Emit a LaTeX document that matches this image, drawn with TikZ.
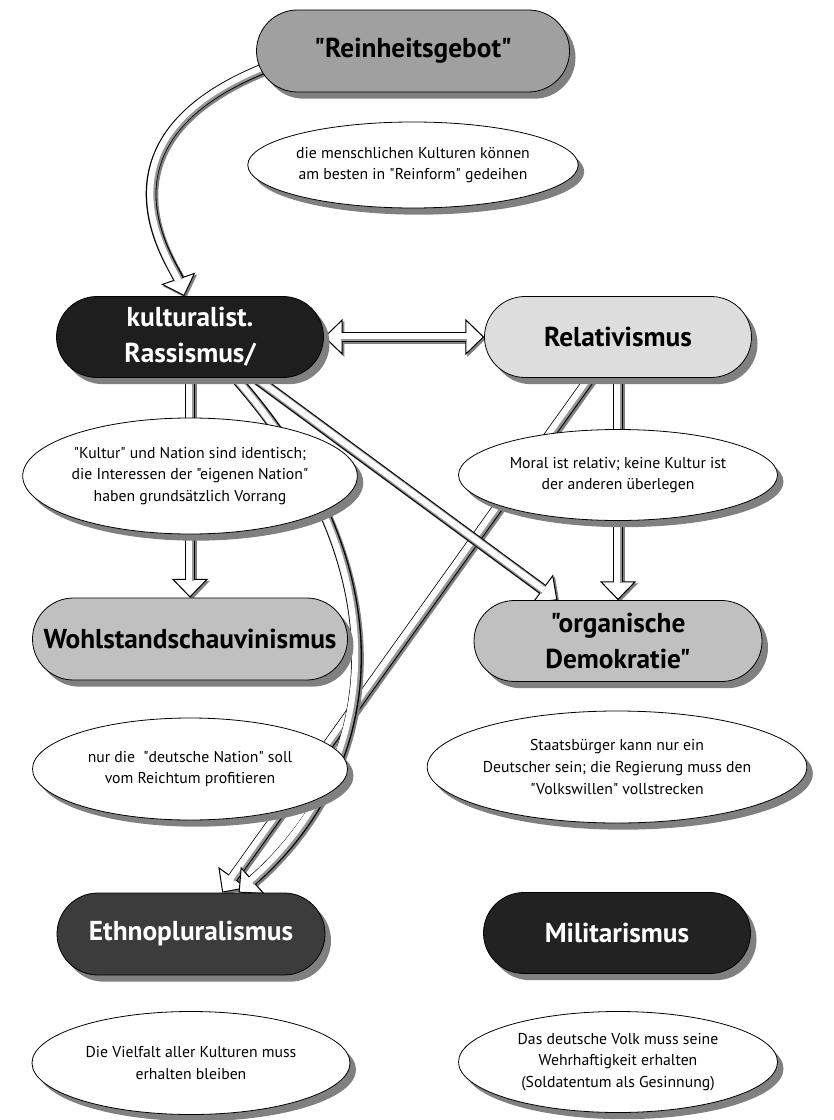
\documentclass[tikz,border=0pt]{standalone}
\usepackage{fontspec}
\setmainfont{PT Sans}[Ligatures=TeXOff]
\usetikzlibrary{shapes.misc,shapes.geometric,shadows,arrows.meta}
\pgfdeclarelayer{back}
\pgfdeclarelayer{bg}
\pgfsetlayers{back,bg,main}
\definecolor{shgray}{RGB}{128,128,128}
\definecolor{ingray}{RGB}{150,150,150}
\definecolor{cR}{RGB}{160,160,160}
\definecolor{cK}{RGB}{30,30,30}
\definecolor{cRel}{RGB}{221,221,221}
\definecolor{cW}{RGB}{192,192,192}
\definecolor{cEth}{RGB}{60,60,60}
\definecolor{cMil}{RGB}{34,34,34}
\newcommand\myhead{\fontsize{20.5}{27}\selectfont\bfseries}
\newcommand\mybody{\fontsize{11.8}{16.3}\selectfont}
\tikzset{
  pill/.style={rounded rectangle, draw=black, line width=0.6pt, inner sep=0pt,
    align=center, font=\myhead,
    drop shadow={shadow xshift=4.5pt, shadow yshift=-5pt, opacity=1, fill=shgray}},
  oval/.style={ellipse, draw=black, line width=0.6pt, fill=white, inner sep=0pt,
    align=center, font=\mybody,
    drop shadow={shadow xshift=4.5pt, shadow yshift=-5pt, opacity=1, fill=shgray}},
  tipone/.style={-{Triangle[length=14pt,width=27pt,line width=0.75pt,fill=#1]}},
  tipboth/.style={{Triangle[length=14pt,width=27pt,line width=0.75pt,fill=#1]}-{Triangle[length=14pt,width=27pt,line width=0.75pt,fill=#1]}},
  shaft/.style={line width=8pt},
  coregray/.style={line width=6.4pt, draw=ingray},
  core/.style={line width=4.6pt, draw=white},
}
\newcommand\harrow[1]{%
  \begin{scope}[transform canvas={shift={(1.4pt,-1.4pt)}}]
    \draw[shaft, draw=shgray, tipone=shgray, shorten <=-6pt] #1;
  \end{scope}
  \draw[shaft, draw=black, tipone=white, shorten <=-6pt] #1;
  \draw[coregray, shorten <=-7pt, shorten >=12.5pt] #1;
  \begin{scope}[transform canvas={shift={(-0.8pt,0.8pt)}}]
    \draw[core, shorten <=-7pt, shorten >=11.5pt] #1;
  \end{scope}
}
\begin{document}
\begin{tikzpicture}[x=0.75pt,y=-0.75pt]
\begin{pgfonlayer}{back}
\fill[white] (0,0) rectangle (834,1120);
\end{pgfonlayer}
\useasboundingbox (0,0) rectangle (834,1120);

\node[pill, fill=cR, minimum width=234.75pt, minimum height=61.5pt] (R) at (413,51) {"Reinheitsgebot"};
\node[oval, minimum width=234.75pt, minimum height=64.5pt] (E1) at (413,165)
  {die menschlichen Kulturen können\\am besten in "Reinform" gedeihen};

\node[pill, fill=cK, text=white, minimum width=200.25pt, minimum height=60.75pt] (K) at (190,337) {kulturalist.\\Rassismus/};
\node[pill, fill=cRel, minimum width=200.25pt, minimum height=60.75pt] (Rel) at (618,337) {Relativismus};

\node[oval, minimum width=236.25pt, minimum height=87pt] (E2) at (190,476)
  {"Kultur" und Nation sind identisch;\\die Interessen der "eigenen Nation"\\haben grundsätzlich Vorrang};
\node[oval, minimum width=239.25pt, minimum height=68.25pt] (E3) at (618,475)
  {Moral ist relativ; keine Kultur ist\\der anderen überlegen};

\node[pill, fill=cW, minimum width=236.25pt, minimum height=61.5pt] (W) at (190,639) {Wohlstandschauvinismus};
\node[pill, fill=cW, minimum width=216pt, minimum height=60.75pt] (O) at (618,641) {"organische\\Demokratie"};

\node[oval, minimum width=236.25pt, minimum height=76.5pt] (E4) at (190,769)
  {nur die\ \ "deutsche Nation" soll\\vom Reichtum profitieren};
\node[oval, minimum width=240.75pt, minimum height=84pt] (E5) at (617,767)
  {Staatsbürger kann nur ein\\Deutscher sein; die Regierung muss den\\"Volkswillen" vollstrecken};

\node[pill, fill=cEth, text=white, minimum width=201pt, minimum height=61.5pt] (Eth) at (191,934) {Ethnopluralismus};
\node[pill, fill=cMil, text=white, minimum width=200.25pt, minimum height=60.75pt] (Mil) at (617,933) {Militarismus};

\node[oval, minimum width=238.5pt, minimum height=77.25pt] (E6) at (191,1063)
  {Die Vielfalt aller Kulturen muss\\erhalten bleiben};
\node[oval, minimum width=239.25pt, minimum height=75.75pt] (E7) at (618,1062)
  {Das deutsche Volk muss seine\\Wehrhaftigkeit erhalten\\(Soldatentum als Gesinnung)};

\begin{pgfonlayer}{bg}
  \harrow{(R.187) .. controls (80,140) and (174,266) .. (K.98)}
  \harrow{(K.south) -- (W.north)}
  \harrow{(Rel.south) -- (O.north)}
  \harrow{(Rel.236) -- (Eth.53)}
  \harrow{(K.318) .. controls (400,560) and (390,760) .. (Eth.41)}
  \harrow{(K.328) -- (O.146)}
  \begin{scope}[transform canvas={shift={(1.4pt,-1.4pt)}}]
    \draw[shaft, draw=shgray, tipboth=shgray] (K.east) -- (Rel.west);
  \end{scope}
  \draw[shaft, draw=black, tipboth=white] (K.east) -- (Rel.west);
  \draw[coregray, shorten <=12.5pt, shorten >=12.5pt] (K.east) -- (Rel.west);
  \begin{scope}[transform canvas={shift={(0pt,0.8pt)}}]
    \draw[core, shorten <=11.5pt, shorten >=11.5pt] (K.east) -- (Rel.west);
  \end{scope}
\end{pgfonlayer}
\end{tikzpicture}
\end{document}
